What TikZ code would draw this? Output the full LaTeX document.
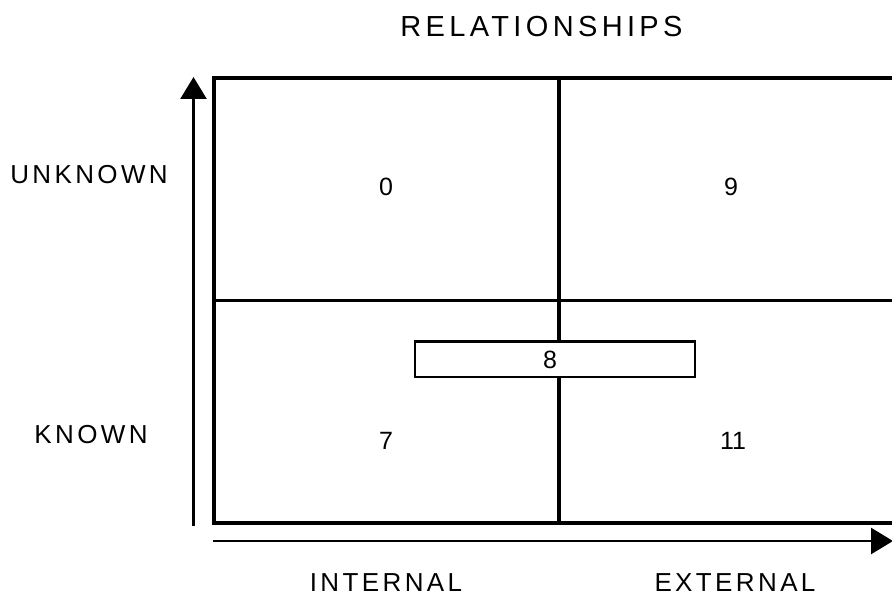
\documentclass[tikz,border=0pt]{standalone}
\usepackage{fontspec}
\setmainfont{Liberation Sans}
\newfontfamily\lblfont[LetterSpace=13]{Liberation Sans}
\newfontfamily\ttlfont[LetterSpace=15]{Liberation Sans}
\usetikzlibrary{arrows.meta}
\begin{document}
\begin{tikzpicture}[x=1pt,y=-1pt,
  lbl/.style={inner sep=0pt,anchor=center,font=\lblfont\fontsize{26}{26}\selectfont},
  ttl/.style={inner sep=0pt,anchor=center,font=\ttlfont\fontsize{29}{29}\selectfont},
  num/.style={inner sep=0pt,anchor=center,font=\fontsize{25}{25}\selectfont},
  frame/.style={line width=4pt,draw=black},
  divider/.style={line width=4pt,draw=black},
  axis/.style={line width=2.5pt,draw=black,-{Triangle[length=22pt,width=26pt]}},
  midbox/.style={draw=black,fill=white,line width=2.5pt,minimum width=280pt,minimum height=35.5pt,inner sep=0pt}]
\useasboundingbox (0,0) rectangle (892,596);
\clip (0,0) rectangle (892,596);
% frame
\coordinate (tl) at (213.5,78.5);
\coordinate (br) at (905,523);
\draw[frame] (tl) rectangle (br);
\coordinate (vtop) at (559,78.5);
\coordinate (vbot) at (559,523);
\coordinate (hl) at (213.5,300.5);
\coordinate (hr) at (905,300.5);
\draw[divider] (vtop) -- (vbot);
\draw[line width=3.5pt] (hl) -- (hr);
% axes
\coordinate (ys) at (193.5,526);
\coordinate (ye) at (193.5,77);
\coordinate (xs) at (213,541);
\coordinate (xe) at (893,541);
\draw[axis] (ys) -- (ye);
\draw[axis] (xs) -- (xe);
% labels
\node[ttl] (title) at (541.5,26.5) {RELATIONSHIPS};
\node[lbl] (unknown) at (89,175) {UNKNOWN};
\node[lbl] (known) at (91,435) {KNOWN};
\node[lbl] (internal) at (386,583) {INTERNAL};
\node[lbl] (external) at (735,583) {EXTERNAL};
% numbers
\node[num] (n0) at (386,187) {0};
\node[num] (n9) at (731,187) {9};
\node[num] (n7) at (386,441) {7};
\node[num] (n11) at (733,441) {11};
\node[midbox] (box8) at (555,359) {};
\node[num] (n8) at (550,360) {8};
\end{tikzpicture}
\end{document}
